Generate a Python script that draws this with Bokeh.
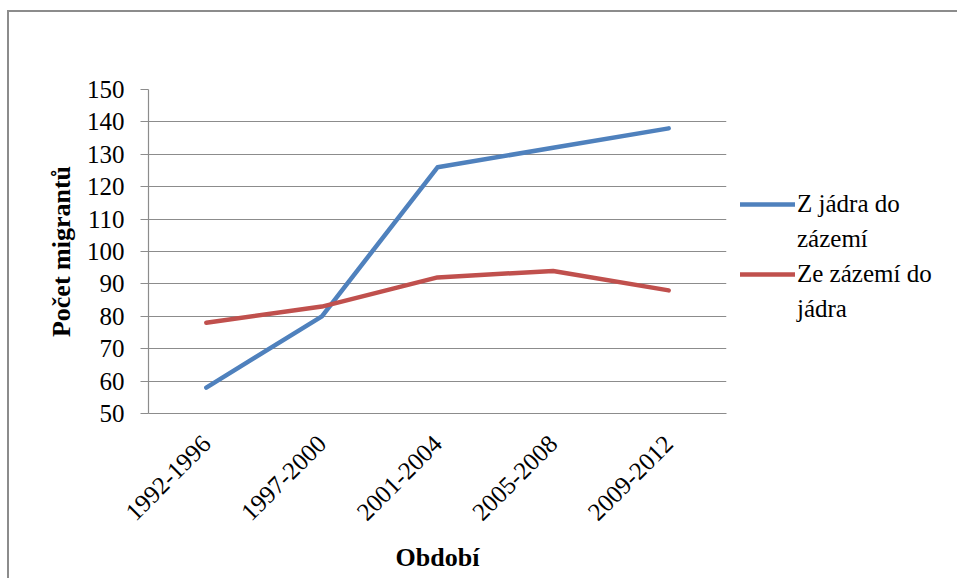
from bokeh.plotting import figure
from bokeh.models import Legend, LegendItem, FixedTicker, FactorRange
from bokeh.embed import file_html
from bokeh.resources import INLINE
import math

periods = ["1992-1996", "1997-2000", "2001-2004", "2005-2008", "2009-2012"]
z_jadra = [58, 80, 126, 132, 138]
ze_zazemi = [78, 83, 92, 94, 88]
y_ticks = [50, 60, 70, 80, 90, 100, 110, 120, 130, 140, 150]
label_rows = ["Z jádra do", "zázemí", "Ze zázemí do", "jádra"]
colors = ["#4F81BD", "#C0504D"]

FONT = "Liberation Serif"

p = figure(frame_width=578, frame_height=324, x_range=FactorRange(*periods, range_padding=0),
           y_range=(50, 150), output_backend="svg", toolbar_location=None,
           min_border_left=139, min_border_top=77, min_border_right=229, min_border_bottom=165)
p.styles = {"border-left": "2px solid #8c8c8c", "border-top": "2px solid #8c8c8c",
            "margin-left": "7px", "margin-top": "10px"}

r1 = p.line(periods, z_jadra, line_color=colors[0], line_width=4.5, line_cap="round", line_join="round")
r2 = p.line(periods, ze_zazemi, line_color=colors[1], line_width=4.5, line_cap="round", line_join="round")
# empty helpers carrying the second line of each wrapped legend label
h1 = p.line([], [], line_alpha=0)
h2 = p.line([], [], line_alpha=0)

p.outline_line_color = None
p.xgrid.grid_line_color = None
p.ygrid.grid_line_color = "#8c8c8c"
p.ygrid.grid_line_width = 1.2

p.yaxis.ticker = FixedTicker(ticks=y_ticks)
p.yaxis.axis_line_color = "#8c8c8c"
p.yaxis.axis_line_width = 1.2
p.yaxis.major_tick_line_color = "#8c8c8c"
p.yaxis.major_tick_out = 8
p.yaxis.major_tick_in = 0
p.yaxis.minor_tick_line_color = None
p.yaxis.major_label_text_font = FONT
p.yaxis.major_label_text_font_size = "25px"
p.yaxis.major_label_text_color = "black"
p.yaxis.major_label_standoff = 16
p.yaxis.axis_label = "Počet migrantů"
p.yaxis.axis_label_text_font = FONT
p.yaxis.axis_label_text_font_style = "bold"
p.yaxis.axis_label_text_font_size = "26px"
p.yaxis.axis_label_text_color = "black"
p.yaxis.axis_label_standoff = 8

p.xaxis.axis_line_color = "#8c8c8c"
p.xaxis.axis_line_width = 1.2
p.xaxis.major_tick_line_color = None
p.xaxis.major_label_orientation = math.pi / 4
p.xaxis.major_label_text_font = FONT
p.xaxis.major_label_text_font_size = "25px"
p.xaxis.major_label_text_color = "black"
p.xaxis.major_label_standoff = 20
p.xaxis.axis_label = "Období"
p.xaxis.axis_label_text_font = FONT
p.xaxis.axis_label_text_font_style = "bold"
p.xaxis.axis_label_text_font_size = "26px"
p.xaxis.axis_label_text_color = "black"
p.xaxis.axis_label_standoff = 12

legend = Legend(items=[LegendItem(label=label_rows[0], renderers=[r1]),
                       LegendItem(label=label_rows[1], renderers=[h1]),
                       LegendItem(label=label_rows[2], renderers=[r2]),
                       LegendItem(label=label_rows[3], renderers=[h2])],
                location=(14, 89), orientation="vertical",
                label_text_font=FONT,
                label_text_font_size="25px", label_text_color="black",
                glyph_width=55, glyph_height=30, label_height=30, label_standoff=2,
                padding=0, margin=0, spacing=5,
                border_line_color=None, background_fill_alpha=0)
p.add_layout(legend, "right")

open("out.html", "w").write(file_html(p, INLINE))
